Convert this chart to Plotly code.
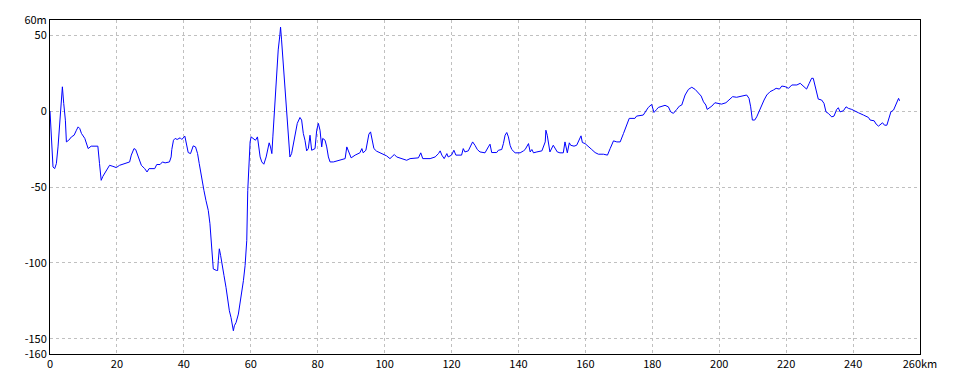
import plotly.graph_objects as go

# distance along route (km) and elevation difference (m)
dist_km = [0.0, 0.3, 0.9, 1.4, 1.9, 2.4, 2.9, 3.2, 3.7, 4.1, 4.6, 4.9, 5.6, 6.4, 7.2, 7.9, 8.4, 8.9, 9.4,
           10.4, 10.9, 11.4, 12.3, 14.3, 14.8, 15.3, 15.8, 16.8, 17.8, 18.8, 19.8, 20.8, 22.3, 23.8, 24.3,
           25.1, 25.6, 26.3, 27.3, 28.3, 29.0, 29.6, 31.3, 31.9, 32.9, 33.6, 34.4, 35.7, 36.2, 36.4, 36.9,
           37.4, 38.0, 38.9, 39.4, 40.3, 40.8, 41.3, 42.0, 42.8, 43.5, 44.1, 44.6, 45.3, 46.0, 46.6, 47.3,
           47.8, 48.1, 48.4, 48.8, 49.8, 50.1, 50.3, 50.6, 51.0, 51.5, 52.0, 52.6, 53.1, 53.6, 54.1, 54.6,
           54.8, 55.1, 55.6, 56.3, 56.8, 57.3, 57.8, 58.3, 58.8, 59.1, 59.4, 59.8, 60.1, 60.8, 61.4, 62.0,
           62.3, 62.8, 63.3, 63.9, 64.6, 65.1, 65.5, 65.9, 66.3, 66.6, 67.0, 67.2, 67.8, 68.2, 68.7, 68.9,
           69.2, 69.7, 70.2, 70.7, 71.2, 71.7, 72.2, 72.7, 73.2, 73.9, 74.7, 75.2, 75.7, 76.2, 76.7, 77.2,
           77.7, 78.2, 79.2, 79.7, 80.2, 80.7, 81.2, 81.5, 82.2, 82.7, 83.2, 83.7, 84.7, 86.7, 88.2, 88.7,
           89.2, 90.0, 91.2, 92.1, 92.6, 93.2, 93.6, 94.4, 94.8, 95.3, 95.8, 96.3, 96.8, 97.6, 98.6, 99.6,
           100.6, 101.6, 102.9, 103.6, 104.6, 105.6, 106.6, 107.6, 110.1, 110.8, 111.4, 113.6, 115.1, 116.1,
           116.6, 117.1, 117.8, 118.6, 119.0, 120.0, 120.7, 121.3, 123.0, 123.5, 124.0, 125.0, 125.7, 126.3,
           127.0, 127.7, 128.5, 130.0, 131.0, 131.5, 132.0, 133.5, 134.0, 135.0, 135.5, 136.0, 136.5, 137.0,
           137.5, 138.0, 139.0, 140.5, 141.5, 142.0, 143.0, 143.5, 144.0, 144.5, 145.5, 147.0, 148.0, 148.2,
           148.6, 149.0, 149.4, 150.4, 150.9, 151.6, 152.4, 153.4, 153.9, 154.2, 154.6, 155.2, 155.6, 156.6,
           157.4, 158.7, 159.1, 159.9, 160.9, 161.9, 162.9, 163.9, 165.4, 166.6, 167.4, 168.4, 169.4, 170.4,
           171.4, 172.4, 173.1, 174.8, 175.3, 177.3, 178.8, 179.8, 180.5, 181.3, 181.8, 183.8, 184.8, 185.5,
           186.3, 187.3, 188.1, 188.8, 189.3, 189.8, 190.8, 191.8, 192.8, 193.8, 194.6, 195.3, 196.0, 196.4,
           197.8, 198.7, 199.7, 200.7, 202.0, 203.0, 204.0, 205.2, 207.2, 208.2, 208.9, 209.4, 209.9, 210.6,
           211.2, 212.0, 212.7, 213.4, 214.2, 215.2, 216.2, 217.0, 218.0, 218.7, 219.7, 220.7, 221.7, 223.2,
           224.2, 225.1, 226.1, 226.9, 227.6, 228.1, 228.6, 229.1, 229.6, 230.6, 231.3, 231.9, 232.6, 233.6,
           234.3, 235.1, 235.6, 236.1, 237.1, 237.9, 238.6, 239.6, 240.6, 241.6, 243.1, 244.6, 245.1, 246.3,
           246.9, 247.6, 248.8, 249.4, 250.1, 250.8, 251.3, 252.1, 252.6, 253.1, 253.6, 253.9]
elev_m = [0.0, -14.7, -36.8, -37.9, -34.6, -23.6, -6.0, 5.0, 16.0, 5.0, -6.0, -20.3, -19.2, -17.0, -15.9,
          -12.6, -10.4, -11.5, -14.7, -18.0, -21.4, -24.7, -23.1, -23.1, -34.6, -45.6, -43.0, -39.0, -35.7,
          -36.4, -37.2, -35.7, -34.6, -33.5, -29.0, -24.7, -25.3, -30.2, -35.7, -37.9, -40.1, -37.9, -37.9,
          -35.2, -35.2, -33.5, -34.1, -33.5, -30.2, -25.3, -19.2, -18.0, -18.7, -17.6, -18.7, -16.5, -22.5,
          -27.3, -28.0, -22.9, -23.6, -28.0, -34.6, -44.5, -52.2, -58.8, -65.4, -74.2, -84.1, -96.3, -104.0,
          -105.0, -105.0, -98.5, -90.7, -95.2, -102.9, -108.4, -116.1, -126.0, -131.5, -136.0, -141.4, -144.7,
          -141.4, -139.3, -133.7, -127.1, -119.4, -111.7, -101.8, -85.3, -52.2, -32.4, -20.3, -17.0, -18.0,
          -19.2, -17.0, -23.6, -30.2, -33.5, -35.0, -30.2, -24.7, -20.9, -23.6, -28.0, -17.0, -3.8, 9.5, 27.1,
          40.3, 50.2, 55.3, 46.9, 31.5, 11.7, -5.9, -21.3, -30.2, -28.0, -21.3, -14.7, -8.1, -4.2, -5.9, -14.7,
          -19.2, -26.2, -24.7, -15.9, -25.8, -24.7, -12.6, -8.1, -12.6, -23.6, -18.0, -19.2, -23.6, -30.2,
          -33.5, -33.5, -32.0, -31.3, -23.6, -26.9, -30.8, -29.0, -28.0, -27.5, -24.7, -27.5, -25.8, -21.4,
          -15.2, -13.7, -20.3, -24.7, -26.4, -27.5, -28.6, -29.5, -31.3, -28.6, -30.2, -30.8, -31.3, -32.4,
          -31.3, -30.8, -27.5, -31.3, -31.3, -30.2, -28.0, -26.2, -29.0, -31.3, -28.0, -30.2, -29.0, -25.8,
          -29.0, -29.0, -24.7, -26.9, -26.2, -22.5, -20.3, -22.5, -25.3, -26.9, -27.5, -23.6, -21.8, -27.3,
          -27.3, -25.8, -25.3, -21.4, -15.9, -14.1, -17.0, -22.5, -25.3, -27.5, -27.5, -26.2, -25.3, -21.4,
          -26.9, -25.3, -27.5, -26.9, -26.2, -20.3, -12.6, -15.9, -22.5, -26.9, -22.5, -24.7, -26.9, -27.5,
          -27.5, -20.3, -24.7, -27.5, -20.9, -22.5, -23.1, -22.5, -16.3, -20.7, -21.4, -23.1, -25.3, -27.3,
          -28.4, -28.4, -29.0, -24.7, -19.6, -20.3, -20.3, -14.7, -9.3, -4.8, -4.8, -3.3, -2.6, 2.4, 4.4, -0.9,
          1.1, 2.4, 3.8, 2.8, -0.5, -1.5, 1.1, 3.3, 4.0, 7.3, 10.6, 14.3, 15.7, 14.3, 11.7, 9.9, 6.1, 4.0, 1.1,
          3.3, 5.5, 5.1, 4.6, 5.5, 7.7, 9.5, 9.1, 9.9, 10.6, 8.4, 2.8, -5.9, -5.9, -3.8, 0.7, 4.0, 7.3, 10.6,
          12.8, 13.9, 15.0, 14.5, 16.5, 16.1, 15.0, 17.2, 17.2, 18.3, 16.5, 14.5, 18.3, 21.6, 21.6, 17.2, 12.8,
          7.9, 7.3, 5.1, -0.5, -1.5, -3.8, -3.3, 1.1, 2.2, -0.5, 0.2, 2.8, 1.8, 1.1, 0.2, -1.1, -2.6, -4.2,
          -5.9, -6.4, -8.6, -9.9, -7.7, -9.3, -9.3, -4.8, -0.5, 0.7, 3.3, 6.1, 8.4, 6.8]

x_ticks = [0, 20, 40, 60, 80, 100, 120, 140, 160, 180, 200, 220, 240, 260]
x_labels = ["0", "20", "40", "60", "80", "100", "120", "140", "160", "180", "200", "220", "240", "260km"]
y_ticks = [-160, -150, -100, -50, 0, 50, 60]
y_labels = ["-160", "-150", "-100", "-50", "0", "50", "60m"]

fig = go.Figure()
fig.add_trace(go.Scatter(x=dist_km, y=elev_m, mode="lines",
                         line=dict(color="#0000FF", width=1), hoverinfo="x+y"))

axis_font = dict(family="Noto Sans CJK JP, DejaVu Sans, sans-serif", size=11, color="#000000")
fig.update_layout(
    width=960, height=384,
    margin=dict(l=50, r=40, t=20, b=30),
    paper_bgcolor="#FFFFFF", plot_bgcolor="#FFFFFF",
    showlegend=False,
    font=axis_font,
    xaxis=dict(range=[0, 260], tickmode="array", tickvals=x_ticks, ticktext=x_labels,
               showgrid=True, gridcolor="#C0C0C0", gridwidth=1, griddash="3px,3px",
               showline=True, linecolor="#000000", linewidth=1, mirror=True,
               ticks="", zeroline=False, tickfont=axis_font),
    yaxis=dict(range=[-160, 60], tickmode="array", tickvals=y_ticks, ticktext=y_labels,
               showgrid=True, gridcolor="#C0C0C0", gridwidth=1, griddash="3px,3px",
               showline=True, linecolor="#000000", linewidth=1, mirror=True,
               ticks="", zeroline=False, tickfont=axis_font),
)

fig.write_html("out.html")
